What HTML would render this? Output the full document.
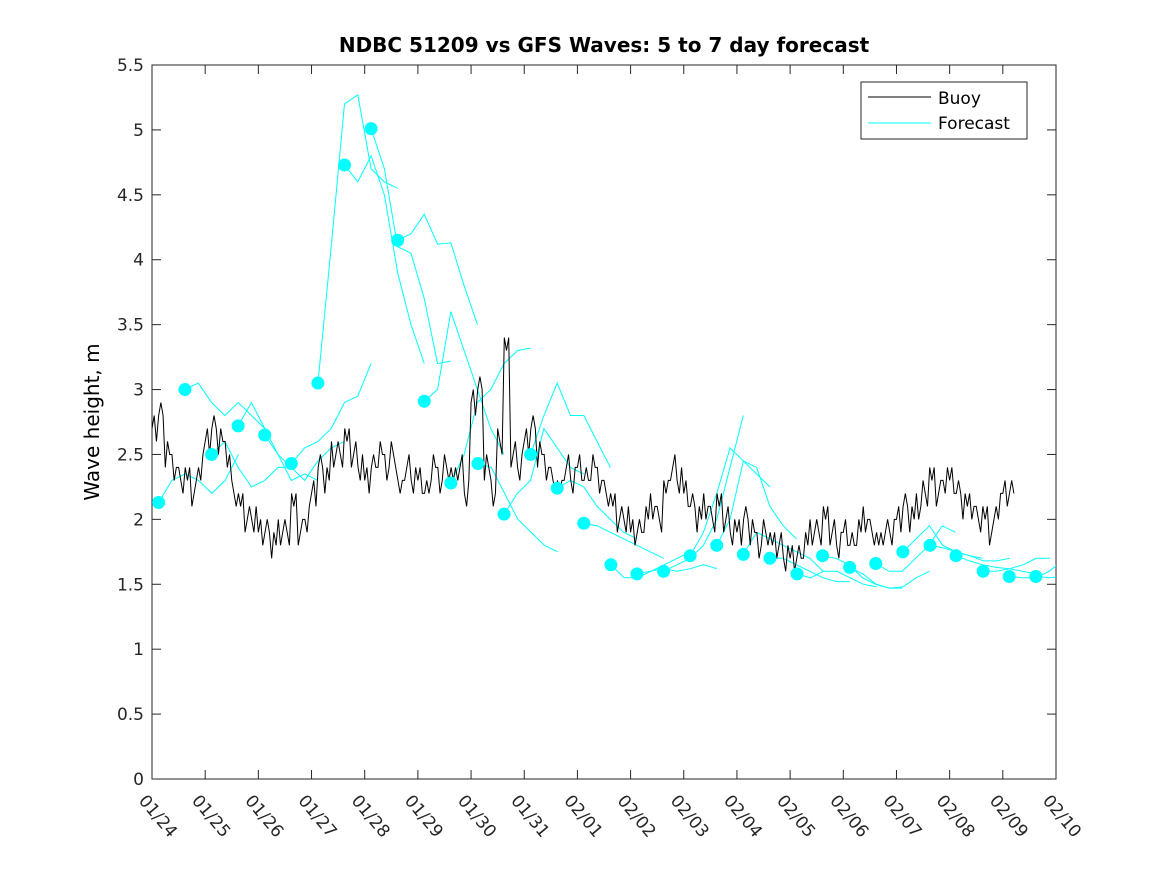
<!DOCTYPE html>
<html><head><meta charset="utf-8"><style>
body{margin:0;background:#fff;}
svg text{font-family:"DejaVu Sans","Liberation Sans",sans-serif;}
</style></head><body>
<svg id="chart" width="1167" height="875" xmlns="http://www.w3.org/2000/svg">
<rect width="1167" height="875" fill="#fff"/>
<text x="604" y="52" text-anchor="middle" font-size="20" font-weight="bold">NDBC 51209 vs GFS Waves: 5 to 7 day forecast</text>
<text transform="translate(99,422) rotate(-90)" text-anchor="middle" font-size="20">Wave height, m</text>
<g id="plot"></g>
</svg>
<script>
const xTickLabels=["01/24","01/25","01/26","01/27","01/28","01/29","01/30","01/31","02/01","02/02","02/03","02/04","02/05","02/06","02/07","02/08","02/09","02/10"];
const yTicks=[0,0.5,1,1.5,2,2.5,3,3.5,4,4.5,5,5.5];
const buoyStep=0.125;
const buoyValues=[2.7,2.8,2.5,2.4,2.3,2.3,2.2,2.4,2.6,2.7,2.6,2.5,2.2,2.1,2.0,2.0,1.9,1.9,1.8,1.9,1.9,2.1,1.9,2.0,2.2,2.4,2.3,2.5,2.5,2.6,2.5,2.4,2.3,2.4,2.5,2.4,2.5,2.2,2.4,2.3,2.3,2.2,2.4,2.3,2.4,2.3,2.4,2.2,2.9,3.0,2.4,2.2,2.6,3.3,2.5,2.4,2.6,2.7,2.5,2.4,2.3,2.2,2.4,2.3,2.4,2.3,2.4,2.3,2.2,2.1,2.0,2.0,1.9,1.9,2.0,2.1,2.0,2.2,2.4,2.3,2.2,2.1,2.0,2.1,2.0,2.1,2.0,1.9,1.9,2.0,1.9,1.8,1.9,1.8,1.8,1.7,1.7,1.7,1.8,1.9,1.9,2.0,1.9,1.8,1.9,1.8,1.9,2.0,1.9,1.8,1.9,1.9,2.0,2.1,2.0,2.1,2.2,2.3,2.2,2.3,2.3,2.2,2.1,2.1,2.0,2.0,1.9,2.1,2.2,2.2];
const buoyJitter=[0,0.1,-0.1,0,0.1,0,-0.1,0.1];
const fcStartDays=[0.125,0.62,1.12,1.62,2.12,2.62,3.12,3.62,4.12,4.62,5.12,5.62,6.13,6.62,7.12,7.62,8.12,8.63,9.12,9.62,10.12,10.62,11.12,11.62,12.13,12.61,13.12,13.61,14.12,14.63,15.12,15.63,16.12,16.62];
const fcSegments=[
[2.13,2.3,2.35,2.3,2.2,2.3,2.5],
[3.0,3.05,2.9,2.8,2.9,2.8,2.7],
[2.5,2.6,2.4,2.25,2.3,2.4,2.4],
[2.72,2.9,2.7,2.5,2.3,2.35,2.3],
[2.65,2.5,2.4,2.3,2.45,2.55,2.6],
[2.43,2.55,2.6,2.7,2.9,2.95,3.2],
[3.05,4.1,5.2,5.27,4.7,4.6,4.55],
[4.73,4.6,4.8,4.5,3.9,3.5,3.2],
[5.01,4.7,4.1,4.05,3.7,3.2,3.22],
[4.15,4.2,4.35,4.12,4.13,3.8,3.5],
[2.91,3.0,3.6,3.3,3.0,2.7,2.5],
[2.28,2.5,2.9,3.0,3.2,3.3,3.32],
[2.43,2.4,2.2,2.0,1.9,1.8,1.75],
[2.04,2.2,2.3,2.7,2.55,2.4,2.35],
[2.5,2.8,3.05,2.8,2.8,2.6,2.4],
[2.24,2.3,2.25,2.1,2.0,1.9,1.85],
[1.97,1.95,1.9,1.85,1.8,1.75,1.7],
[1.65,1.55,1.55,1.6,1.65,1.7,1.75],
[1.58,1.6,1.62,1.6,1.62,1.65,1.62],
[1.6,1.65,1.7,1.8,2.0,2.4,2.8],
[1.72,1.9,2.2,2.55,2.45,2.35,2.25],
[1.8,2.0,2.45,2.4,2.1,1.95,1.85],
[1.73,1.9,1.85,1.8,1.75,1.7,1.6],
[1.7,1.7,1.65,1.6,1.55,1.52,1.52],
[1.58,1.55,1.6,1.6,1.55,1.5,1.48],
[1.72,1.7,1.65,1.55,1.5,1.47,1.47],
[1.63,1.58,1.5,1.47,1.48,1.55,1.6],
[1.66,1.6,1.6,1.7,1.8,1.95,1.9],
[1.75,1.85,1.95,1.8,1.75,1.72,1.7],
[1.8,1.78,1.75,1.72,1.68,1.68,1.7],
[1.72,1.68,1.65,1.63,1.62,1.6,1.58],
[1.6,1.6,1.62,1.65,1.7,1.7],
[1.56,1.55,1.55,1.6,1.68],
[1.56,1.55,1.56,1.6]];
const segStep=0.25;
const L=152,R=1056,T=65,B=779;
const xS=d=>L+d*(R-L)/17;
const yS=v=>B-v*(B-T)/5.5;
const NS="http://www.w3.org/2000/svg";
const svg=document.getElementById('chart');
const defs=document.createElementNS(NS,'defs');
defs.innerHTML='<clipPath id="clip"><rect x="152" y="65" width="904" height="714"/></clipPath>';
svg.insertBefore(defs,svg.firstChild);
const g=document.getElementById('plot');
function mk(tag,attrs,parent){const e=document.createElementNS(NS,tag);for(const k in attrs)e.setAttribute(k,attrs[k]);(parent||g).appendChild(e);return e;}
let box=mk('rect',{x:L,y:T,width:R-L,height:B-T,fill:'#fff',stroke:'#262626','stroke-width':1});


yTicks.forEach(v=>{const y=yS(v);
 mk('line',{x1:L,x2:L+9,y1:y,y2:y,stroke:'#262626'});mk('line',{x1:R-9,x2:R,y1:y,y2:y,stroke:'#262626'});
 const t=mk('text',{x:L-8,y:y+6,'text-anchor':'end','font-size':17,fill:'#262626'});t.textContent=String(v);
 
 
});
xTickLabels.forEach((lab,i)=>{const x=xS(i);
 mk('line',{x1:x,x2:x,y1:B,y2:B-9,stroke:'#262626'});mk('line',{x1:x,x2:x,y1:T,y2:T+9,stroke:'#262626'});
 const t=mk('text',{transform:`translate(${x-14},${B+22}) rotate(50)`,'font-size':17,fill:'#262626'});t.textContent=lab;
 
 
});
const cg=mk('g',{'clip-path':'url(#clip)'});
fcSegments.forEach((seg,i)=>{const pts=seg.map((v,j)=>xS(fcStartDays[i]+j*segStep)+','+yS(v)).join(' ');
 const p=mk('polyline',{points:pts,fill:'none',stroke:'#00ffff','stroke-width':1},cg);
 
 
});
let bp=[];buoyValues.forEach((v,i)=>{for(let k=0;k<3;k++){const d=i*buoyStep+k*buoyStep/3;const vv=v+buoyJitter[(i*3+k)%8];bp.push(xS(d)+','+yS(vv));}});
const bl=mk('polyline',{points:bp.join(' '),fill:'none',stroke:'#000','stroke-width':1},cg);


fcSegments.forEach((seg,i)=>{const c=mk('circle',{cx:xS(fcStartDays[i]),cy:yS(seg[0]),r:6.5,fill:'#00ffff'});
 
 
});
const lg=mk('rect',{x:861,y:82,width:166,height:57,fill:'#fff',stroke:'#262626'});


mk('line',{x1:868,x2:931,y1:97,y2:97,stroke:'#000'});
mk('line',{x1:868,x2:931,y1:123,y2:123,stroke:'#00ffff'});
const t1=mk('text',{x:938,y:104,'font-size':17,fill:'#000'});t1.textContent='Buoy';


const t2=mk('text',{x:938,y:129,'font-size':17,fill:'#000'});t2.textContent='Forecast';


</script>
</body></html>
